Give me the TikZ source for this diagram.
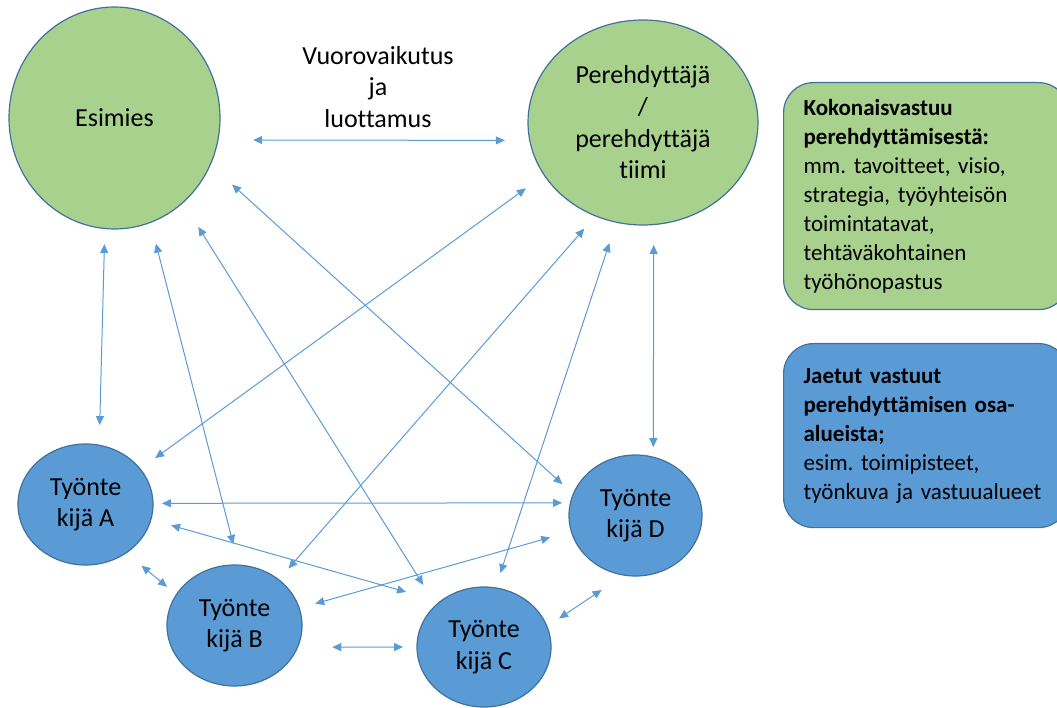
\documentclass[tikz,border=0pt]{standalone}
\usepackage{fontspec}
\setmainfont[Ligatures=NoCommon]{Carlito}
\usetikzlibrary{shapes.geometric,arrows.meta}
\definecolor{leafgreen}{HTML}{A9D18E}
\definecolor{skyblue}{HTML}{5B9BD5}
\definecolor{edgeblue}{HTML}{41719C}
\frenchspacing
\begin{document}
\begin{tikzpicture}[x=1pt,y=-1pt,
  role/.style={ellipse, draw=edgeblue, line width=1.2pt, inner sep=0pt, outer sep=0pt,
    align=center, font=\fontsize{26}{31.7}\selectfont},
  lead/.style={role, fill=leafgreen},
  worker/.style={role, fill=skyblue, minimum width=135pt, minimum height=121pt},
  link/.style={draw=skyblue, line width=1pt,
    {Triangle[length=9pt,width=8pt]}-{Triangle[length=9pt,width=8pt]}},
  note/.style={draw=edgeblue, line width=1.2pt, rounded corners=30pt, anchor=north west,
    align=left, text width=245pt, inner xsep=20pt, minimum width=285pt,
    font=\fontsize{23}{29}\selectfont}
]
\clip (0,0) rectangle (1057,708);

% roles
\node[lead, minimum width=211pt, minimum height=222pt] (esimies) at (114.5,118) {Esimies};
\node[lead, minimum width=230pt, minimum height=205pt] (pere) at (643,122.5)
  {Perehdyttäjä\\/\\perehdyttäjä\\tiimi};
\node[worker] (tA) at (85.5,504.5) {Työnte\\kijä A};
\node[worker] (tB) at (234.5,625.5) {Työnte\\kijä B};
\node[worker, minimum width=134pt, minimum height=120pt] (tC) at (484,647) {Työnte\\kijä C};
\node[worker, minimum width=133pt] (tD) at (635.5,515.5) {Työnte\\kijä D};

\node[align=center, font=\fontsize{26}{31.7}\selectfont] (talk) at (378,87)
  {Vuorovaikutus\\ja\\luottamus};

% responsibility notes
\node[note, fill=leafgreen, minimum height=227pt] (whole) at (783,82)
  {\textbf{Kokonaisvastuu}\\\textbf{perehdyttämisestä:}\\mm. tavoitteet, visio,\\strategia, työyhteisön\\toimintatavat,\\tehtäväkohtainen\\työhönopastus};
\node[note, fill=skyblue, minimum height=184pt] (shared) at (783,343)
  {\textbf{Jaetut vastuut}\\\textbf{perehdyttämisen osa-}\\\textbf{alueista;}\\esim. toimipisteet,\\työnkuva ja vastuualueet};

% two-way links
\draw[link, shorten <=35.3pt, shorten >=24.9pt] (esimies.-12.6) -- (pere.189.3);
\draw[link, shorten <=15.6pt, shorten >=20.2pt] (esimies.-95.8) -- (tA.77.6);
\draw[link, shorten <=22pt,   shorten >=21.8pt] (esimies.-71.5) -- (tB.86.2);
\draw[link, shorten <=28.8pt, shorten >=24pt]   (esimies.-51.9) -- (tC.139.1);
\draw[link, shorten <=29.6pt, shorten >=14.7pt] (esimies.-26.2) -- (tD.161.8);
\draw[link, shorten <=22.7pt, shorten >=18.5pt] (pere.-152.9) -- (tA.33.1);
\draw[link, shorten <=17pt,   shorten >=15pt]   (pere.-117.8) -- (tB.46.6);
\draw[link, shorten <=22pt,   shorten >=15.6pt] (pere.-105.2) -- (tC.79.4);
\draw[link, shorten <=20.4pt, shorten >=10pt]   (pere.-84.7) -- (tD.73.8);
\draw[link, shorten <=9pt,    shorten >=8.4pt]  (tA.1.3) -- (tD.169.1);
\draw[link, shorten <=21pt,   shorten >=35.5pt] (tA.-13.6) -- (tC.134);
\draw[link, shorten <=16.7pt, shorten >=22pt]   (tB.15.6) -- (tD.-166.4);
\draw[link, shorten <=20pt,   shorten >=12.2pt] (tA.-50.8) -- (tB.152);
\draw[link, shorten <=34.8pt, shorten >=14pt]   (tB.-19.75) -- (tC.180.9);
\draw[link, shorten <=14.6pt, shorten >=26.8pt] (tC.18.4) -- (tD.-101.6);
\end{tikzpicture}
\end{document}
